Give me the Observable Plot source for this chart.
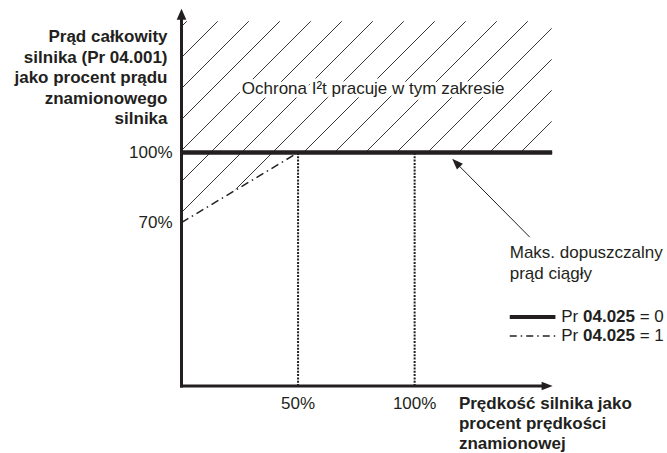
<!DOCTYPE html>
<html>
<head>
<meta charset="utf-8">
<script src="https://cdn.jsdelivr.net/npm/d3@7"></script>
<script src="https://cdn.jsdelivr.net/npm/@observablehq/plot@0.6"></script>
<style>
  html, body { margin: 0; padding: 0; background: #fff; }
  svg { display: block; }
</style>
</head>
<body>
<div id="chart"></div>
<script>
// ---- data ----
const speedPr0 = [0, 159];          // Pr 04.025 = 0 (speed, %)
const currentPr0 = [100, 100];      // current, %
const speedPr1 = [0, 50, 159];      // Pr 04.025 = 1
const currentPr1 = [70, 100, 100];
const referenceSpeeds = [50, 100];  // dotted verticals
const xTicks = [50, 100];
const xTickLabels = ["50%", "100%"];
const yTicks = [70, 100];
const yTickLabels = ["70%", "100%"];
const hatchTop = 156;
const yTitle = "Prąd całkowity\nsilnika (Pr 04.001)\njako procent prądu\nznamionowego\nsilnika";
const xTitle = "Prędkość silnika jako\nprocent prędkości\nznamionowej";
const zoneLabel = "Ochrona I²t pracuje w tym zakresie";
const noteLabel = "Maks. dopuszczalny\nprąd ciągły";
const legendLabels = ["Pr 04.025 = 0", "Pr 04.025 = 1"];
const legendRowY = [29.6, 21.4];

// ---- styles ----
const ink = "#231f20";
const font = "'Liberation Sans', Arial, sans-serif";
const c = v => () => v;

// custom arrowhead symbols (tip at origin)
const L = 11, H = 4.8;
const arrowUp = { draw(ctx) { ctx.moveTo(0, 0); ctx.lineTo(-H, L); ctx.lineTo(H, L); ctx.closePath(); } };
const arrowRight = { draw(ctx) { ctx.moveTo(0, 0); ctx.lineTo(-L, -H + 0.6); ctx.lineTo(-L, H - 0.6); ctx.closePath(); } };
const s2 = Math.SQRT1_2, La = 11, Ha = 4.2;
const arrowUpLeft = { draw(ctx) {
  ctx.moveTo(0, 0);
  ctx.lineTo(La * s2 + Ha * s2, La * s2 - Ha * s2);
  ctx.lineTo(La * s2 - Ha * s2, La * s2 + Ha * s2);
  ctx.closePath();
} };

const idx = a => d3.range(a.length);

const chart = Plot.plot({
  width: 667,
  height: 453,
  marginTop: 12,
  marginRight: 113,
  marginBottom: 67.5,
  marginLeft: 181,
  x: { domain: [0, 160], axis: null },
  y: { domain: [0, 160], axis: null },
  style: { fontFamily: font, fontSize: "17px", color: ink, background: "#fff" },
  marks: [
    // hatched zone above the Pr 04.025 = 1 curve
    Plot.areaY(idx(speedPr1), {
      x: i => speedPr1[i], y1: i => currentPr1[i], y2: c(hatchTop),
      fill: "url(#hatch)", stroke: "none"
    }),
    // dotted reference verticals
    Plot.link(referenceSpeeds, {
      x1: d => d, x2: d => d, y1: c(0), y2: c(100),
      stroke: ink, strokeWidth: 2, strokeDasharray: "2,1.3", strokeLinecap: "butt"
    }),
    // Pr 04.025 = 1 (dash-dot)
    Plot.line(idx(speedPr1), {
      x: i => speedPr1[i], y: i => currentPr1[i],
      stroke: ink, strokeWidth: 1.5, strokeDasharray: "8,4,1.5,4", strokeLinecap: "butt"
    }),
    // Pr 04.025 = 0 (thick)
    Plot.line(idx(speedPr0), {
      x: i => speedPr0[i], y: i => currentPr0[i],
      stroke: ink, strokeWidth: 4.5, strokeLinecap: "butt"
    }),
    // axes
    Plot.link([0], { x1: c(0), y1: c(0), x2: c(0), y2: c(157), stroke: ink, strokeWidth: 3, strokeLinecap: "square" }),
    Plot.link([0], { x1: c(0), y1: c(0), x2: c(154.5), y2: c(0), stroke: ink, strokeWidth: 3, strokeLinecap: "square" }),
    Plot.dot([0], { x: c(0), y: c(161.6), symbol: arrowUp, fill: ink, stroke: "none", r: 5 }),
    Plot.dot([0], { x: c(159.2), y: c(0), symbol: arrowRight, fill: ink, stroke: "none", r: 5 }),
    // tick labels
    Plot.text(yTicks, { x: c(0), y: d => d, text: (d, i) => yTickLabels[i], dx: -9, textAnchor: "end", fill: ink, fontSize: 17 }),
    Plot.text(xTicks, { x: d => d, y: c(0), text: (d, i) => xTickLabels[i], dy: 17.5, fill: ink, fontSize: 17 }),
    // axis titles
    Plot.text([yTitle], { x: c(-6), y: c(132.5), text: d => d, textAnchor: "end", lineAnchor: "middle", lineHeight: 1.21, fontWeight: "bold", fontSize: 17, fill: ink }),
    Plot.text([xTitle], { x: c(119), y: c(-15.6), text: d => d, textAnchor: "start", lineAnchor: "middle", lineHeight: 1.17, fontWeight: "bold", fontSize: 17, fill: ink }),
    // zone label
    Plot.text([zoneLabel], { x: c(82.2), y: c(127.3), text: d => d, fill: ink, stroke: "white", strokeWidth: 7, paintOrder: "stroke", fontSize: 17 }),
    // annotation arrow
    Plot.link([0], { x1: c(149.4), y1: c(63.75), x2: c(117.5), y2: c(95.9), stroke: ink, strokeWidth: 1 }),
    Plot.dot([0], { x: c(116.1), y: c(97.3), symbol: arrowUpLeft, fill: ink, stroke: "none", r: 5 }),
    Plot.text([noteLabel], { x: c(140.8), y: c(53.2), text: d => d, textAnchor: "start", lineAnchor: "middle", lineHeight: 1.22, fill: ink, fontSize: 17 }),
    // legend
    Plot.link([0], { x1: c(140.8), x2: c(160.4), y1: c(legendRowY[0]), y2: c(legendRowY[0]), stroke: ink, strokeWidth: 4, strokeLinecap: "butt" }),
    Plot.link([0], { x1: c(140.8), x2: c(160.4), y1: c(legendRowY[1]), y2: c(legendRowY[1]), stroke: ink, strokeWidth: 1.5, strokeDasharray: "7,4,1.5,4", strokeLinecap: "butt" }),
    Plot.text(legendLabels, { x: c(162.9), y: (d, i) => legendRowY[i], text: d => d, textAnchor: "start", fill: ink, fontSize: 17 })
  ]
});

// hatch pattern definition
const svg = d3.select(chart);
const pat = svg.insert("defs", ":first-child")
  .append("pattern")
  .attr("id", "hatch")
  .attr("patternUnits", "userSpaceOnUse")
  .attr("x", 22).attr("y", 0)
  .attr("width", 31).attr("height", 31);
pat.append("path")
  .attr("d", "M0,31L31,0M-2,2L2,-2M29,33L33,29")
  .attr("stroke", ink).attr("stroke-width", 0.9).attr("fill", "none");

// bold parameter numbers in legend labels
svg.selectAll("text").filter(function () { return legendLabels.includes(this.textContent); })
  .each(function () {
    const m = this.textContent.match(/^(Pr )(\S+)( = \d)$/);
    const t = d3.select(this);
    t.text(null);
    t.append("tspan").text(m[1]);
    t.append("tspan").attr("font-weight", "bold").text(m[2]);
    t.append("tspan").text(m[3]);
  });

document.getElementById("chart").appendChild(chart);
</script>
</body>
</html>
